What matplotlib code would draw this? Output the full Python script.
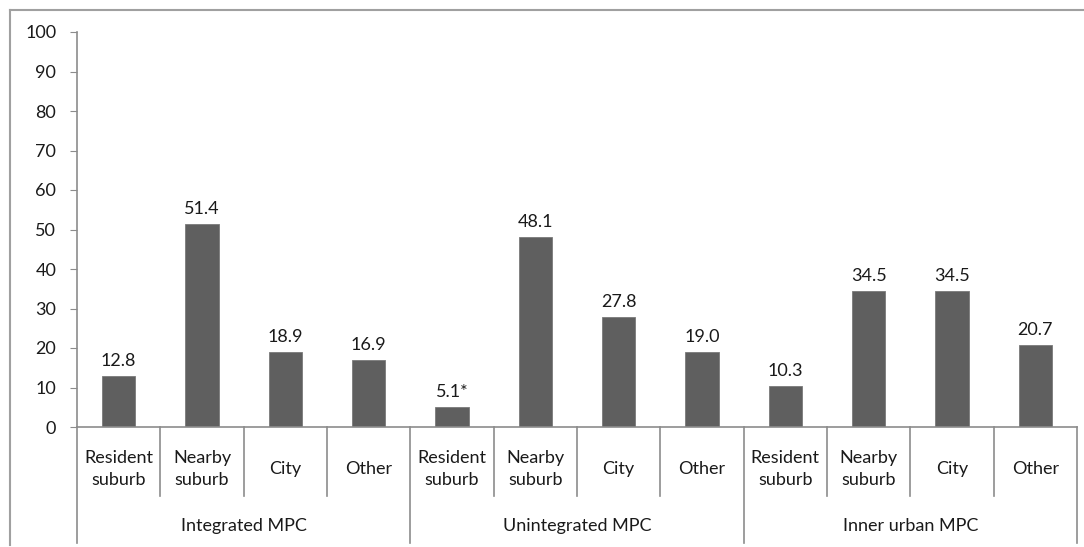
import matplotlib
matplotlib.use("Agg")
import matplotlib.pyplot as plt
import matplotlib.transforms as mtransforms
from matplotlib.lines import Line2D

groups = ["Integrated MPC", "Unintegrated MPC", "Inner urban MPC"]
categories = ["Resident\nsuburb", "Nearby\nsuburb", "City", "Other"]
values = [12.8, 51.4, 18.9, 16.9,
          5.1, 48.1, 27.8, 19.0,
          10.3, 34.5, 34.5, 20.7]
value_labels = ["12.8", "51.4", "18.9", "16.9",
                "5.1*", "48.1", "27.8", "19.0",
                "10.3", "34.5", "34.5", "20.7"]
yticks = [0, 10, 20, 30, 40, 50, 60, 70, 80, 90, 100]

plt.rcParams['font.family'] = ['Lato', 'DejaVu Sans']
W, H = 1084, 547
fig = plt.figure(figsize=(W / 100, H / 100), dpi=100)
axcol = "#8c8c8c"
barcol = "#5f5f5f"
txtcol = "#1a1a1a"
fs = 13

# outer frame (top and left visible)
fig.add_artist(Line2D([10 / W, 10 / W], [2 / H, 1 - 10 / H], color="#a0a0a0", lw=1.5,
                      transform=fig.transFigure))
fig.add_artist(Line2D([10 / W, 1.0], [1 - 10 / H, 1 - 10 / H], color="#a0a0a0", lw=1.5,
                      transform=fig.transFigure))

ax = fig.add_axes([77 / W, 120 / H, 1000 / W, 395 / H])
n = len(values)
x = list(range(n))
ax.bar(x, values, width=0.4, color=barcol, edgecolor="#7a7a7a", linewidth=0.6)
for xi, v, lab in zip(x, values, value_labels):
    ax.annotate(lab, (xi, v), xytext=(0, 5), textcoords="offset points",
                ha="center", va="bottom", fontsize=fs, color=txtcol)

ax.set_xlim(-0.5, n - 0.5)
ax.set_ylim(0, 100)
ax.set_yticks(yticks)
ax.tick_params(axis="y", direction="out", length=5, color=axcol, labelsize=fs,
               labelcolor=txtcol, pad=10)
ax.set_xticks([])
for s in ["top", "right"]:
    ax.spines[s].set_visible(False)
ax.spines["left"].set_color(axcol)
ax.spines["bottom"].set_color(axcol)
ax.spines["left"].set_linewidth(1.2)
ax.spines["bottom"].set_linewidth(1.2)

trans = mtransforms.blended_transform_factory(ax.transData, ax.transAxes)
ah = 395.0
# category separators
for i in range(n + 1):
    y0 = -116 / ah if i % 4 == 0 else -69 / ah
    ax.add_line(Line2D([i - 0.5, i - 0.5], [0, y0], color=axcol, lw=1.2,
                       transform=trans, clip_on=False))
for i in range(n):
    ax.text(i, -42 / ah, categories[i % 4], transform=trans, ha="center", va="center",
            fontsize=fs, color=txtcol, linespacing=1.45)
for g, name in enumerate(groups):
    ax.text(g * 4 + 1.5, -99 / ah, name, transform=trans, ha="center", va="center",
            fontsize=fs, color=txtcol)

fig.savefig("out.png", dpi=100)
